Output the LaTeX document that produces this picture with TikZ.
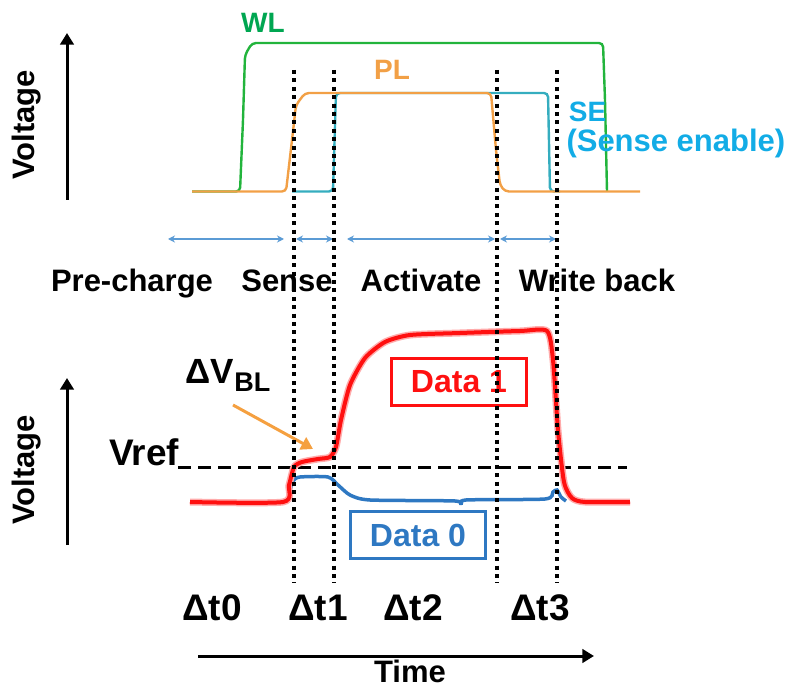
\documentclass[tikz,border=0pt]{standalone}
\usepackage{fontspec}
\setmainfont{Liberation Sans}
\usetikzlibrary{arrows.meta}
\definecolor{wlgreen}{HTML}{22B43C}
\definecolor{wltext}{HTML}{00A651}
\definecolor{plorange}{HTML}{F2A046}
\definecolor{seline}{HTML}{35ADBF}
\definecolor{setext}{HTML}{12ACE6}
\definecolor{phaseblue}{HTML}{5B9BD5}
\definecolor{datared}{HTML}{FF1010}
\definecolor{datablue}{HTML}{2E78C2}
\definecolor{dvorange}{HTML}{F5A040}

\begin{document}
\begin{tikzpicture}[x=1pt, y=-1pt, >=Triangle, line width=3pt,
  font=\bfseries\fontsize{31}{36}\selectfont,
  dotline/.style={line width=3.6pt, dash pattern=on 4pt off 4.4pt},
  wave/.style={line width=2.4pt, rounded corners=4pt},
  big/.style={font=\bfseries\fontsize{37}{40}\selectfont},
  small/.style={font=\bfseries\fontsize{28}{32}\selectfont},
  databox/.style={font=\bfseries\fontsize{32}{36}\selectfont, draw, line width=3pt, minimum width=135pt, minimum height=47pt, inner sep=0pt}]
  \useasboundingbox (0,0) rectangle (804,687);
  \coordinate (va0) at (67,200);
  \coordinate (va1) at (67,33);
  \coordinate (vb0) at (67,545);
  \coordinate (vb1) at (67,378);
  \coordinate (ta0) at (198,656);
  \coordinate (ta1) at (594,656);
  \draw[->] (va0) -- (va1);
  \draw[->] (vb0) -- (vb1);
  \draw[->] (ta0) -- (ta1);
  \node[rotate=90] (vtop) at (27,125) {Voltage};
  \node[rotate=90] (vbot) at (27,470) {Voltage};
  \node[anchor=base, inner sep=1pt] (time) at (410,682) {Time};
  \draw[wave, wlgreen] (192,191.5) -- (240,191.5) -- (243,120) -- (245,55) -- (252,43) -- (603,43) -- (605,100) -- (607,191.5);
  \draw[wave, seline] (292,191.5) -- (333,191.5) -- (336,93) -- (548,93) -- (550,191.5) -- (560,191.5);
  \draw[wave, plorange] (192,191.5) -- (286,191.5) -- (292,140) -- (296,105) -- (305,93) -- (491,93) -- (496,150) -- (500,185) -- (505,191.5) -- (640,191.5);
  \node[small, wltext, anchor=base] (wl) at (263,33) {WL};
  \node[small, plorange, anchor=base] (pl) at (392,80) {PL};
  \node[small, setext, anchor=base west] (se) at (564,122) {SE};
  \node[setext, anchor=base west, inner sep=1pt] (sen) at (564,152) {(Sense enable)};
  \coordinate (p0) at (168,239);
  \coordinate (p1) at (284,239);
  \coordinate (p2) at (296,239);
  \coordinate (p3) at (333,239);
  \coordinate (p4) at (347,239);
  \coordinate (p5) at (495,239);
  \coordinate (p6) at (500,239);
  \coordinate (p7) at (556,239);
  \draw[phaseblue, line width=1.6pt, {Stealth[length=7pt,width=7pt]}-{Stealth[length=7pt,width=7pt]}] (p0) -- (p1);
  \draw[phaseblue, line width=1.6pt, {Stealth[length=7pt,width=7pt]}-{Stealth[length=7pt,width=7pt]}] (p2) -- (p3);
  \draw[phaseblue, line width=1.6pt, {Stealth[length=7pt,width=7pt]}-{Stealth[length=7pt,width=7pt]}] (p4) -- (p5);
  \draw[phaseblue, line width=1.6pt, {Stealth[length=7pt,width=7pt]}-{Stealth[length=7pt,width=7pt]}] (p6) -- (p7);
  \node[anchor=base] (pre) at (132,292) {Pre-charge};
  \node[anchor=base] (sense) at (287,292) {Sense};
  \node[anchor=base] (act) at (421,292) {Activate};
  \node[anchor=base] (wb) at (597,292) {Write back};
  \coordinate (vr0) at (178,467);
  \coordinate (vr1) at (627,467);
  \draw[dash pattern=on 13pt off 7pt] (vr0) -- (vr1);
  \node[big, anchor=base] (vref) at (144,465) {Vref};
  \draw[datablue, line width=3.5pt] plot[smooth, tension=0.4] coordinates {(289,495) (293,481) (300,477) (328,477) (338,485) (350,495) (370,500) (455,501) (461,505) (466,500) (545,499) (553,492) (557,490) (561,497) (566,501)};
  \draw[datared!35, line width=7pt] plot[smooth, tension=0.4] coordinates {(190,502) (283,502) (289,485) (294,467) (302,462) (318,459) (330,457) (336,447) (341,420) (350,385) (365,358) (385,342) (410,335) (460,333) (520,331) (547,331) (553,360) (558,430) (564,482) (572,498) (585,502) (630,502)};
  \draw[datared, line width=4pt] plot[smooth, tension=0.4] coordinates {(190,502) (283,502) (289,485) (294,467) (302,462) (318,459) (330,457) (336,447) (341,420) (350,385) (365,358) (385,342) (410,335) (460,333) (520,331) (547,331) (553,360) (558,430) (564,482) (572,498) (585,502) (630,502)};
  \node[databox, draw=datared, text=datared] (d1) at (459,382) {Data 1};
  \node[databox, draw=datablue, text=datablue] (d0) at (418,535) {Data 0};
  \node[anchor=base west, font=\bfseries\fontsize{35}{38}\selectfont] (dvbl) at (181,383) {ΔV\raisebox{-9pt}{\fontsize{27}{30}\selectfont BL}};
  \coordinate (dvtail) at (233,405);
  \coordinate (dvtip) at (313,449);
  \draw[dvorange, ->] (dvtail) -- (dvtip);
  \node[big, anchor=base] (t0) at (212,620) {Δt0};
  \node[big, anchor=base] (t1) at (318,620) {Δt1};
  \node[big, anchor=base] (t2) at (413,620) {Δt2};
  \node[big, anchor=base] (t3) at (540,620) {Δt3};
  \coordinate (s1t) at (294,70);
  \coordinate (s1b) at (294,583);
  \coordinate (s2t) at (334,70);
  \coordinate (s2b) at (334,583);
  \coordinate (s3t) at (497,70);
  \coordinate (s3b) at (497,583);
  \coordinate (s4t) at (557,70);
  \coordinate (s4b) at (557,583);
  \draw[dotline] (s1t) -- (s1b);
  \draw[dotline] (s2t) -- (s2b);
  \draw[dotline] (s3t) -- (s3b);
  \draw[dotline] (s4t) -- (s4b);
\end{tikzpicture}
\end{document}
